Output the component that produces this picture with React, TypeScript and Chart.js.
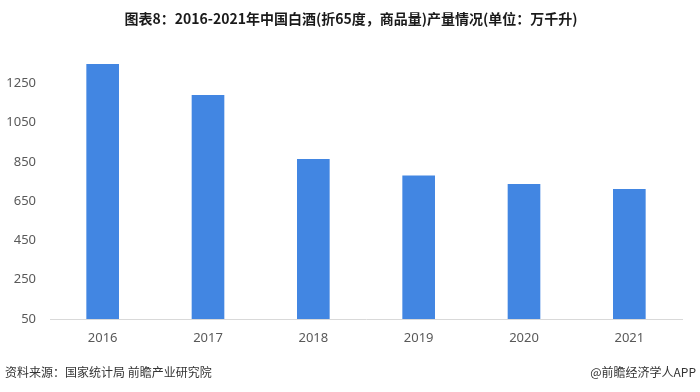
import React, { useEffect, useRef } from "react";
import { Chart, registerables } from "chart.js";

Chart.register(...registerables);

const categories = ["2016", "2017", "2018", "2019", "2020", "2021"];
const output = [1348, 1190, 864, 780, 737, 712];
const yMin = 50;
const yMax = 1450;
const yStep = 200;

const titleText = "图表8：2016-2021年中国白酒(折65度，商品量)产量情况(单位：万千升)";
const sourceText = "资料来源：国家统计局 前瞻产业研究院";
const brandText = "@前瞻经济学人APP";

const textPlugin = {
  id: "textPlugin",
  afterDraw(chart: any) {
    const ctx = chart.ctx;
    ctx.save();
    ctx.fillStyle = "#1a1a1a";
    ctx.font = "bold 14px 'Noto Sans CJK SC', sans-serif";
    ctx.textAlign = "center";
    ctx.textBaseline = "middle";
    ctx.fillText(titleText, 351, 19);
    ctx.font = "12px 'Noto Sans CJK SC', sans-serif";
    ctx.fillStyle = "#333333";
    ctx.textAlign = "left";
    ctx.fillText(sourceText, 5, 372);
    ctx.textAlign = "right";
    ctx.fillText(brandText, 696, 372);
    ctx.restore();
  },
};

export default function App() {
  const ref = useRef<HTMLCanvasElement | null>(null);
  useEffect(() => {
    if (!ref.current) return;
    const chart = new Chart(ref.current, {
      type: "bar",
      data: {
        labels: categories,
        datasets: [
          {
            data: output,
            backgroundColor: "#4286e2",
            barPercentage: 0.31,
            categoryPercentage: 1,
          },
        ],
      },
      options: {
        animation: false,
        responsive: false,
        maintainAspectRatio: false,
        layout: { padding: { left: 0, right: 18, top: 44, bottom: 43 } },
        plugins: {
          legend: { display: false },
          tooltip: { enabled: false },
          title: { display: false },
        },
        scales: {
          x: {
            grid: { display: false, drawTicks: false },
            border: { display: true, color: "#d9d9d9", width: 1 },
            ticks: {
              color: "#595959",
              font: { size: 13, family: "'Noto Sans', sans-serif" },
              padding: 11,
            },
            afterFit: (s: any) => {
              s.height = 30;
            },
          },
          y: {
            min: yMin,
            max: yMax,
            grid: { display: false, drawTicks: false },
            border: { display: false },
            ticks: {
              stepSize: yStep,
              color: "#595959",
              font: { size: 13, family: "'Noto Sans', sans-serif" },
              padding: 14,
              callback: (v: any) => (Number(v) >= yMax ? "" : String(v)),
            },
            afterFit: (s: any) => {
              s.width = 50;
            },
          },
        },
      },
      plugins: [textPlugin],
    });
    return () => chart.destroy();
  }, []);
  return (
    <div style={{ position: "fixed", left: 0, top: 0, width: 700, height: 392, background: "#fff" }}>
      <canvas ref={ref} width={700} height={392} style={{ display: "block" }} />
    </div>
  );
}
